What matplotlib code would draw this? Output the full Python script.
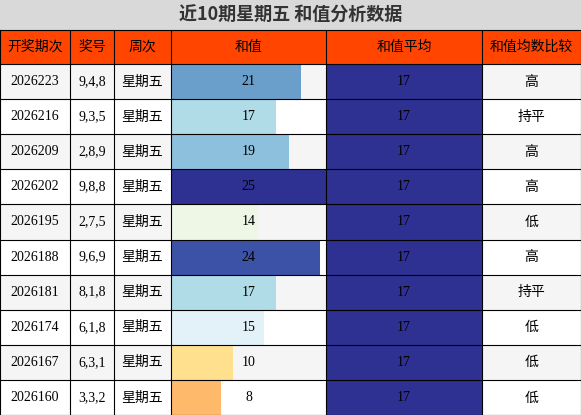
import matplotlib
matplotlib.use("Agg")
import matplotlib.pyplot as plt
from matplotlib.patches import Rectangle

title = "近10期星期五 和值分析数据"
headers = ["开奖期次", "奖号", "周次", "和值", "和值平均", "和值均数比较"]
periods = ["2026223","2026216","2026209","2026202","2026195","2026188","2026181","2026174","2026167","2026160"]
numbers = ["9,4,8","9,3,5","2,8,9","9,8,8","2,7,5","9,6,9","8,1,8","6,1,8","6,3,1","3,3,2"]
weekday = ["星期五"]*10
sums = [21,17,19,25,14,24,17,15,10,8]
avg = [17]*10
compare = ["高","持平","高","高","低","高","持平","低","低","低"]
bar_colors = ["#6A9FCB","#B0DCE8","#8CC0DD","#2E3192","#EEF7E6","#3C52A6","#B0DCE8","#E2F2F8","#FFE08E","#FFB96A"]

W, H = 581, 415
fig = plt.figure(figsize=(W/100, H/100), dpi=100)
ax = fig.add_axes([0,0,1,1])
ax.set_xlim(0, W); ax.set_ylim(H, 0); ax.axis("off")
cjk = ["Noto Sans CJK SC", "DejaVu Sans"]
serif = ["Liberation Serif", "Noto Sans CJK SC"]

cols = [0, 70, 114, 171, 326, 482, 581]
ax.add_patch(Rectangle((0,0), W, 30, facecolor="#D9D9D9", edgecolor="none"))
ax.text(W/2, 15, title, ha="center", va="center", fontsize=13, fontweight="bold", family=cjk, color="#333333")
hy0, hy1 = 30, 64
ax.add_patch(Rectangle((0,hy0), W, hy1-hy0, facecolor="#FF4500", edgecolor="none"))
for i, h in enumerate(headers):
    ax.text((cols[i]+cols[i+1])/2, (hy0+hy1)/2, h, ha="center", va="center", fontsize=10, family=cjk, color="black")
rh = (H-hy1)/10
vmax = max(sums)
for r in range(10):
    y = hy1 + r*rh
    bg = "#F5F5F5" if r % 2 == 0 else "white"
    ax.add_patch(Rectangle((0,y), W, rh, facecolor=bg, edgecolor="none"))
    bx0, bx1 = cols[3], cols[4]
    ax.add_patch(Rectangle((bx0,y), (bx1-bx0)*sums[r]/vmax, rh, facecolor=bar_colors[r], edgecolor="none"))
    ax.add_patch(Rectangle((cols[4],y), cols[5]-cols[4], rh, facecolor="#2E3192", edgecolor="none"))
    cy = y + rh/2
    ax.text((cols[0]+cols[1])/2, cy, periods[r], ha="center", va="center", fontsize=10, family=serif)
    ax.text((cols[1]+cols[2])/2, cy, numbers[r], ha="center", va="center", fontsize=10, family=serif)
    ax.text((cols[2]+cols[3])/2, cy, weekday[r], ha="center", va="center", fontsize=10, family=cjk)
    ax.text((cols[3]+cols[4])/2, cy, str(sums[r]), ha="center", va="center", fontsize=10, family=serif)
    ax.text((cols[4]+cols[5])/2, cy, str(avg[r]), ha="center", va="center", fontsize=10, family=serif)
    ax.text((cols[5]+cols[6])/2, cy, compare[r], ha="center", va="center", fontsize=10, family=cjk)
for x in cols:
    ax.plot([x,x], [hy0,H], color="black", lw=0.8)
for r in range(11):
    y = hy1 + r*rh
    ax.plot([0,W], [y,y], color="black", lw=0.8)
ax.plot([0,W], [hy0,hy0], color="black", lw=0.8)
fig.savefig("out.png", dpi=100)
